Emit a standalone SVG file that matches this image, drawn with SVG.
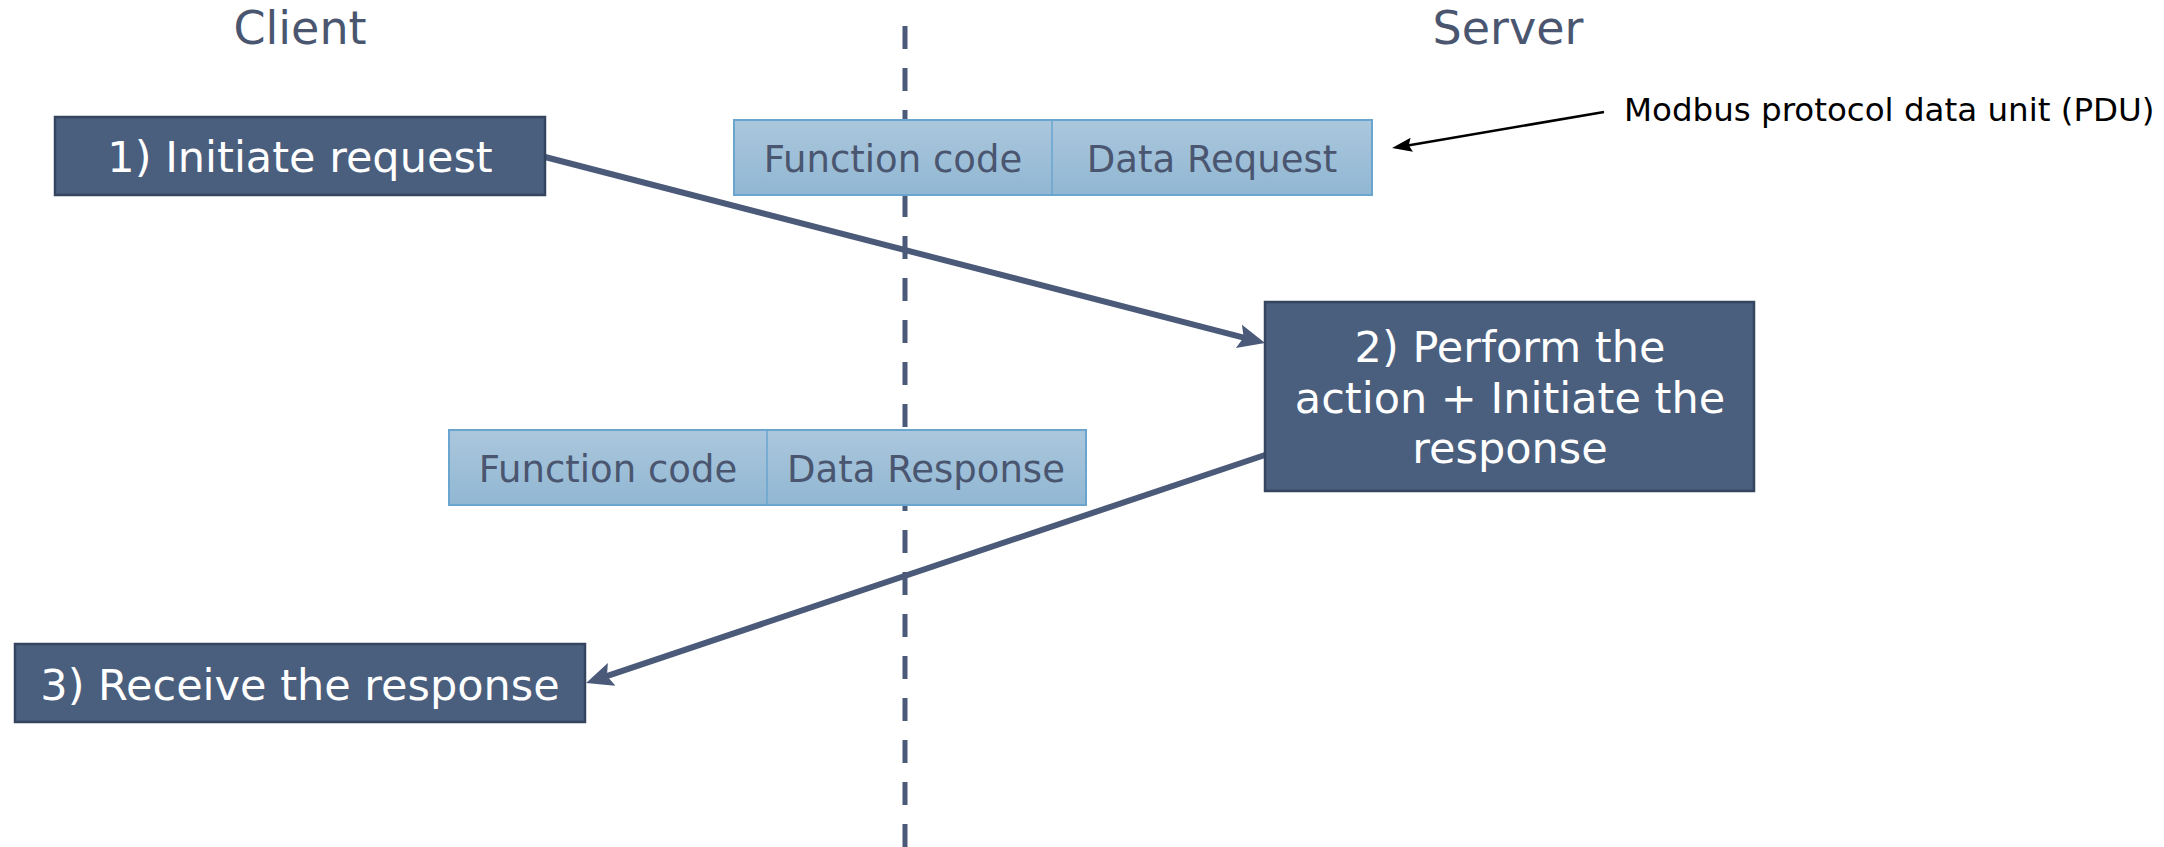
<svg xmlns="http://www.w3.org/2000/svg" width="2164" height="847" viewBox="0 0 2164 847">
  <style>
    .hdr { font-family: "DejaVu Sans", Verdana, sans-serif; font-size: 46px; fill: #4a5670; text-anchor: middle; }
    .step rect { fill: #4a5e7d; stroke: #36455f; stroke-width: 2.5; }
    .step text { font-family: "DejaVu Sans", Verdana, sans-serif; font-size: 43px; fill: #ffffff; text-anchor: middle; }
    .pdu rect { fill: url(#pduFill); stroke: #6aa5cf; stroke-width: 2; }
    .pdu line { stroke: #6aa5cf; stroke-width: 1.5; }
    .pdu text { font-family: "DejaVu Sans", Verdana, sans-serif; font-size: 37px; fill: #4a5670; text-anchor: middle; }
    .note { font-family: "DejaVu Sans", Verdana, sans-serif; font-size: 32.5px; fill: #000000; }
    .flow { stroke: #4a5a78; stroke-width: 6; fill: none; marker-end: url(#head); }
    .pointer { stroke: #000000; stroke-width: 2.5; fill: none; marker-end: url(#headSmall); }
    .divider { stroke: #4a5a78; stroke-width: 5; stroke-dasharray: 23 19; }
  </style>
  <defs>
    <linearGradient id="pduFill" x1="0" y1="0" x2="0" y2="1">
      <stop offset="0" stop-color="#abc7dd"/>
      <stop offset="1" stop-color="#91b7d3"/>
    </linearGradient>
    <marker id="head" markerUnits="userSpaceOnUse" markerWidth="30" markerHeight="26" refX="6" refY="12" orient="auto">
      <path d="M0,0 L27,12 L0,24 L5,12 Z" fill="#4a5a78"/>
    </marker>
    <marker id="headSmall" markerUnits="userSpaceOnUse" markerWidth="22" markerHeight="16" refX="4" refY="7" orient="auto">
      <path d="M0,0 L20,7 L0,14 L3,7 Z" fill="#000000"/>
    </marker>
  </defs>

  <rect width="2164" height="847" fill="#ffffff"/>

  <!-- lane headers and the client/server divider -->
  <text class="hdr" x="300" y="44">Client</text>
  <text class="hdr" x="1508" y="44">Server</text>
  <line class="divider" x1="905" y1="26" x2="905" y2="847"/>

  <!-- message flow -->
  <g id="connectors">
    <line class="flow" x1="545" y1="157" x2="1244.7" y2="337.8"/>
    <line class="flow" x1="1265" y1="455" x2="606" y2="676.3"/>
    <line class="pointer" x1="1604" y1="112" x2="1407.8" y2="145.4"/>
  </g>

  <g id="pdu-request" class="pdu">
    <rect x="734" y="120" width="638" height="75"/>
    <line x1="1052" y1="120" x2="1052" y2="195"/>
    <text x="893" y="172">Function code</text>
    <text x="1212" y="172">Data Request</text>
  </g>

  <g id="pdu-response" class="pdu">
    <rect x="449" y="430" width="637" height="75"/>
    <line x1="767" y1="430" x2="767" y2="505"/>
    <text x="608" y="482">Function code</text>
    <text x="926" y="482">Data Response</text>
  </g>

  <g id="step1" class="step">
    <rect x="55" y="117" width="490" height="78"/>
    <text x="300" y="172">1) Initiate request</text>
  </g>

  <g id="step2" class="step">
    <rect x="1265" y="302" width="489" height="189"/>
    <text x="1510" y="362">2) Perform the</text>
    <text x="1510" y="413">action + Initiate the</text>
    <text x="1510" y="463">response</text>
  </g>

  <g id="step3" class="step">
    <rect x="15" y="644" width="570" height="78"/>
    <text x="300" y="700">3) Receive the response</text>
  </g>

  <g id="pdu-note">
    <text class="note" x="1624" y="121">Modbus protocol data unit (PDU)</text>
  </g>
</svg>
